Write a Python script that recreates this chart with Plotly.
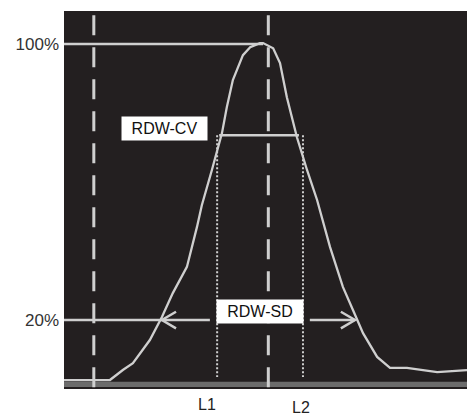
import plotly.graph_objects as go

# Histogram curve (x in relative volume units 0-100, y in % of peak height)
curve_x = [0, 11.4, 14.6, 17.1, 21.3, 24.3, 27.0, 30.5, 33.0, 34.2, 36.7, 39.2, 40.4, 41.9,
           44.4, 46.2, 48.6, 49.4, 51.9, 53.6, 55.3, 57.8, 60.3, 62.8, 66.0, 69.2, 71.7,
           74.2, 77.7, 80.9, 85.1, 92.6, 100]
curve_y = [2.6, 2.6, 5.5, 7.5, 14.2, 20.9, 27.8, 35.4, 47.0, 53.3, 63.5, 74.2, 81.7, 89.6,
           96.8, 99.1, 100.3, 100.3, 98.8, 94.5, 84.6, 73.0, 63.5, 54.8, 41.2, 29.6, 22.9,
           16.2, 9.3, 6.1, 6.1, 4.9, 5.5]

# Reference levels and positions
peak_level = 100
cv_level = 73.6
sd_level = 20
peak_x = 49.4
dashed_x = [7.4, 50.7]
L1_x, L2_x = 38.0, 59.3
cv_left, cv_right = 38.5, 58.3
sd_left, sd_right = 24.3, 72.2
sd_gap_left, sd_gap_right = 36.2, 61.0
ytick_vals = [20, 100]
ytick_text = ["20%", "100%"]

LINE = "#cfcfcf"
BG = "#231f20"
FONT = "Liberation Sans, Arial, sans-serif"

fig = go.Figure()

# baseline band
fig.add_shape(type="rect", x0=0, x1=100, y0=0.6, y1=2.1, xref="x", yref="y",
              fillcolor="#6c6c6c", line_width=0, layer="below")

# dashed verticals
for dx in dashed_x:
    fig.add_trace(go.Scatter(x=[dx, dx], y=[0.5, 110], mode="lines",
                             line=dict(color=LINE, width=3, dash="20px,12px")))

# dotted L1 / L2
for lx in [L1_x, L2_x]:
    fig.add_trace(go.Scatter(x=[lx, lx], y=[cv_level, 3.5], mode="lines",
                             line=dict(color=LINE, width=2, dash="2px,2px")))

# 100% line
fig.add_trace(go.Scatter(x=[0, peak_x], y=[peak_level, peak_level], mode="lines",
                         line=dict(color=LINE, width=2.5)))
# RDW-CV line
fig.add_trace(go.Scatter(x=[cv_left, cv_right], y=[cv_level, cv_level], mode="lines",
                         line=dict(color=LINE, width=2.5)))
# 20% line with arrows
fig.add_trace(go.Scatter(x=[0, sd_gap_left], y=[sd_level, sd_level], mode="lines",
                         line=dict(color=LINE, width=2.5)))
fig.add_trace(go.Scatter(x=[sd_gap_right, sd_right], y=[sd_level, sd_level], mode="lines",
                         line=dict(color=LINE, width=2.5)))
ax_len, ay_len = 3.5, 2.4
fig.add_trace(go.Scatter(x=[sd_left + ax_len, sd_left, sd_left + ax_len],
                         y=[sd_level + ay_len, sd_level, sd_level - ay_len], mode="lines",
                         line=dict(color=LINE, width=2.5)))
fig.add_trace(go.Scatter(x=[sd_right - ax_len, sd_right, sd_right - ax_len],
                         y=[sd_level + ay_len, sd_level, sd_level - ay_len], mode="lines",
                         line=dict(color=LINE, width=2.5)))

# curve
fig.add_trace(go.Scatter(x=curve_x, y=curve_y, mode="lines",
                         line=dict(color=LINE, width=2.3)))

# labels in boxes
fig.add_annotation(x=35.8, y=cv_level + 1.8, xref="x", yref="y", text="RDW-CV",
                   showarrow=False, xanchor="right", yanchor="middle",
                   font=dict(family=FONT, size=16, color="#111"),
                   bgcolor="white", borderpad=3, width=79)
fig.add_annotation(x=(L1_x + L2_x) / 2, y=sd_level + 2.5, xref="x", yref="y", text="RDW-SD",
                   showarrow=False, xanchor="center", yanchor="middle",
                   font=dict(family=FONT, size=16, color="#111"),
                   bgcolor="white", borderpad=3, width=80)

# L1 / L2 labels
fig.add_annotation(x=35.5, y=-0.042, xref="x", yref="paper", text="L1", showarrow=False,
                   font=dict(family=FONT, size=16, color="#222"), yanchor="middle")
fig.add_annotation(x=58.8, y=-0.048, xref="x", yref="paper", text="L2", showarrow=False,
                   font=dict(family=FONT, size=16, color="#222"), yanchor="middle")

fig.update_layout(
    width=467, height=416,
    margin=dict(l=64, r=0, t=11, b=27),
    plot_bgcolor=BG, paper_bgcolor="white",
    showlegend=False,
    hovermode=False,
    xaxis=dict(range=[0, 100], showgrid=False, zeroline=False, showticklabels=False,
               fixedrange=True),
    yaxis=dict(range=[0, 109.6], showgrid=False, zeroline=False,
               tickvals=ytick_vals, ticktext=ytick_text, ticks="", ticklabelstandoff=4,
               automargin=False,
               tickfont=dict(family=FONT, size=17, color="#333"), fixedrange=True),
)

# remove the default page margin so the figure fills the window exactly
page_fix = ("document.body.style.margin='0';"
            "document.body.style.overflow='hidden';"
            "document.documentElement.style.overflow='hidden';")

fig.write_html("out.html", post_script=page_fix, config={"displayModeBar": False})
